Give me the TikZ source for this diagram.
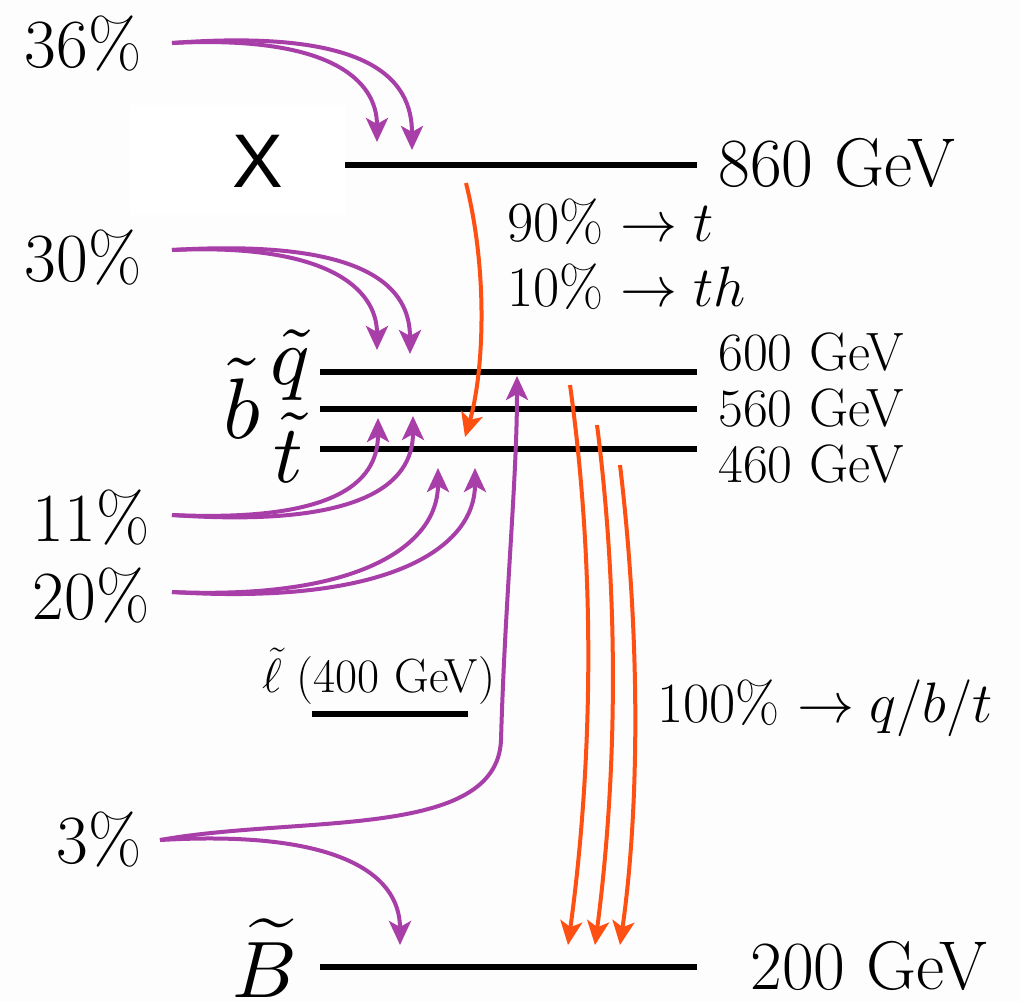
\RequirePackage{fix-cm}
\documentclass[tikz,border=0pt]{standalone}
\usepackage{fontspec}
\newfontfamily\xsans{Liberation Sans}
\usetikzlibrary{arrows.meta}
\definecolor{purp}{RGB}{168,62,168}
\definecolor{orng}{RGB}{255,80,20}
\definecolor{bgc}{RGB}{253,253,253}
\begin{document}
\begin{tikzpicture}[x=0.5pt,y=-0.5pt,
  level/.style={line width=2.6pt},
  big/.style={font=\fontsize{34.5}{38}\selectfont, inner sep=0pt},
  mid/.style={font=\fontsize{27}{30}\selectfont, inner sep=0pt},
  frac/.style={font=\fontsize{28.5}{32}\selectfont, inner sep=0pt},
  sparticle/.style={inner sep=0pt, font=\fontsize{10}{12}\selectfont},
  tip/.style={-{Stealth[length=12pt,width=11pt,inset=3pt]}},
  parr/.style={tip, draw=purp, line width=2pt},
  oarr/.style={tip, draw=orng, line width=2pt}]
\fill[bgc] (0,0) rectangle (1020,1002);
\fill[white] (130,105) rectangle (345,215);
\useasboundingbox (0,0) rectangle (1020,1002);
% levels
\coordinate (xl) at (345,165); \coordinate (xr) at (697,165);
\coordinate (ql) at (320,372); \coordinate (qr) at (697,372);
\coordinate (bl) at (320,409); \coordinate (br) at (697,409);
\coordinate (tl) at (320,449); \coordinate (tr) at (697,449);
\coordinate (ll) at (312,714); \coordinate (lr) at (468,714);
\coordinate (Bl) at (320,967); \coordinate (Br) at (697,967);
\draw[level] (xl) -- (xr);
\draw[level] (ql) -- (qr);
\draw[level] (bl) -- (br);
\draw[level] (tl) -- (tr);
\draw[level] (ll) -- (lr);
\draw[level] (Bl) -- (Br);
% level labels
\node[big, anchor=west] (m860) at (718,163) {860 GeV};
\node[mid, anchor=west] (m600) at (718,352) {600 GeV};
\node[mid, anchor=west] (m560) at (718,408) {560 GeV};
\node[mid, anchor=west] (m460) at (718,464) {460 GeV};
\node[big, anchor=west] (m200) at (750,966) {200 GeV};
\node[inner sep=0pt, font=\xsans\fontsize{38}{42}\selectfont] (xlab) at (258,161) {X};
\node[sparticle, scale=4.1] (sq) at (290,365) {$\tilde q$};
\node[sparticle, scale=4.3] (sb) at (242,398) {$\tilde b$};
\node[sparticle, scale=4.1] (st) at (288,448) {$\tilde t$};
\node[sparticle, scale=4.0] (sB) at (265,958) {$\widetilde B$};
\node[inner sep=0pt, font=\fontsize{24}{27}\selectfont, anchor=south west] (sl) at (262,705) {$\tilde\ell$ (400 GeV)};
% branching labels
\node[frac, anchor=west] (f1) at (507,222) {90\% $\rightarrow t$};
\node[frac, anchor=west] (f2) at (507,287) {10\% $\rightarrow th$};
\node[frac, anchor=west] (f3) at (657,708) {100\% $\rightarrow q/b/t$};
% percent labels
\node[big, anchor=east] (p36) at (142,44) {36\%};
\node[big, anchor=east] (p30) at (142,258) {30\%};
\node[big, anchor=east] (p11) at (150,518) {11\%};
\node[big, anchor=east] (p20) at (150,596) {20\%};
\node[big, anchor=east] (p3) at (142,840) {3\%};
% arrow start coordinates
\coordinate (s36) at (172,43);
\coordinate (s30) at (172,250);
\coordinate (s11) at (172,515);
\coordinate (s20) at (172,592);
\coordinate (s3) at (160,840);
% purple arrows
\draw[parr] (s36) .. controls (330,35) and (377,80) .. (377,142);
\draw[parr] (s36) .. controls (372,28) and (412,80) .. (412,150);
\draw[parr] (s30) .. controls (330,243) and (377,290) .. (377,350);
\draw[parr] (s30) .. controls (372,238) and (410,290) .. (410,354);
\draw[parr] (s11) .. controls (330,522) and (378,485) .. (378,418);
\draw[parr] (s11) .. controls (360,528) and (413,485) .. (413,416);
\draw[parr] (s20) .. controls (360,600) and (438,545) .. (438,468);
\draw[parr] (s20) .. controls (395,606) and (475,545) .. (475,468);
\draw[parr] (s3) .. controls (330,830) and (400,870) .. (400,945);
\draw[parr] (s3) .. controls (300,815) and (497,840) .. (501,740) .. controls (505,600) and (517,480) .. (517,376);
% orange arrows
\draw[oarr] (466,183) .. controls (490,280) and (482,380) .. (465,437);
\draw[oarr] (570,385) .. controls (600,600) and (588,800) .. (568,945);
\draw[oarr] (597,425) .. controls (622,620) and (614,800) .. (595,945);
\draw[oarr] (620,465) .. controls (642,650) and (638,820) .. (620,945);
\end{tikzpicture}
\end{document}
